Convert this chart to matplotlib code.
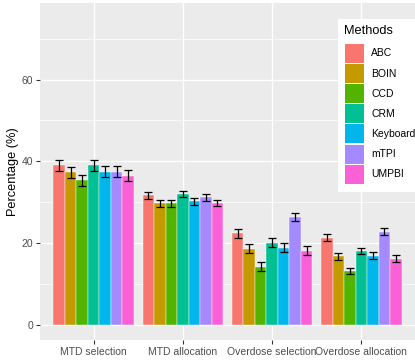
import matplotlib
matplotlib.use("Agg")
import matplotlib.pyplot as plt
import numpy as np
from matplotlib.patches import Rectangle

plt.rcParams['font.family'] = ['Liberation Sans', 'DejaVu Sans']

categories = ["MTD selection", "MTD allocation", "Overdose selection", "Overdose allocation"]
methods = ["ABC", "BOIN", "CCD", "CRM", "Keyboard", "mTPI", "UMPBI"]
colors = ["#F8766D", "#C49A00", "#53B400", "#00C094", "#00B6EB", "#A58AFF", "#FB61D7"]

values = {
    "ABC":      [39.0, 31.7, 22.4, 21.3],
    "BOIN":     [37.3, 29.7, 18.6, 16.7],
    "CCD":      [35.3, 29.7, 14.2, 13.2],
    "CRM":      [39.0, 32.0, 20.1, 18.0],
    "Keyboard": [37.5, 30.2, 18.8, 16.9],
    "mTPI":     [37.5, 31.2, 26.4, 22.8],
    "UMPBI":    [36.5, 29.8, 18.1, 16.2],
}
errors = {
    "ABC":      [1.4, 0.85, 1.1, 0.9],
    "BOIN":     [1.4, 0.8, 1.1, 0.8],
    "CCD":      [1.4, 0.8, 1.05, 0.7],
    "CRM":      [1.4, 0.8, 1.1, 0.8],
    "Keyboard": [1.4, 0.8, 1.1, 0.8],
    "mTPI":     [1.4, 0.8, 1.05, 0.8],
    "UMPBI":    [1.4, 0.8, 1.1, 0.8],
}

W, H = 415, 362
fig = plt.figure(figsize=(W/100, H/100), dpi=100)
ax = fig.add_axes([40/W, 22/H, 375/W, 337/H])
ax.set_facecolor("#EBEBEB")

x = np.arange(1, len(categories) + 1)
n = len(methods)
group_w = 0.9
bw = group_w / n
for i, m in enumerate(methods):
    xs = x - group_w/2 + bw*(i + 0.5)
    ax.bar(xs, values[m], width=bw, color=colors[i], edgecolor="white", linewidth=0.3, zorder=3)
    ax.errorbar(xs, values[m], yerr=errors[m], fmt="none", ecolor="black",
                elinewidth=0.9, capsize=3.2, capthick=0.9, zorder=4)

ax.set_xlim(0.4, 4.6)
ax.set_ylim(-3.75, 78.75)
ax.set_yticks([0, 20, 40, 60])
ax.set_yticks([10, 30, 50, 70], minor=True)
ax.set_xticks(x)
ax.set_xticklabels(categories)
ax.grid(which="major", color="white", linewidth=1.0, zorder=0)
ax.grid(which="minor", axis="y", color="white", linewidth=0.5, zorder=0)
ax.set_axisbelow(True)
for s in ax.spines.values():
    s.set_visible(False)
ax.tick_params(axis="both", which="major", length=3, color="#333333", width=0.8,
               labelsize=7.5, labelcolor="#4D4D4D", pad=2)
ax.tick_params(axis="both", which="minor", length=0)
ax.set_ylabel("Percentage (%)", fontsize=9.2, color="black", labelpad=1.5)

# manual legend (pixel coords from top-left)
def fx(px):
    return px / W
def fy(py):
    return 1 - py / H

fig.add_artist(Rectangle((fx(337.5), fy(191.5)), fx(415) - fx(337.5), fy(19.3) - fy(191.5),
                         transform=fig.transFigure, facecolor="white", edgecolor="none", zorder=5))
fig.text(fx(344), fy(31), "Methods", fontsize=9.2, color="black", ha="left", va="center", zorder=6)
key_top = 43.3
key_h = 20.15
for i, m in enumerate(methods):
    top = key_top + i * key_h
    fig.add_artist(Rectangle((fx(344.5), fy(top + key_h - 0.6)), fx(19.5), (key_h - 1.2) / H,
                             transform=fig.transFigure, facecolor=colors[i],
                             edgecolor="none", zorder=6))
    fig.text(fx(371), fy(top + key_h / 2), m, fontsize=7.5, color="black",
             ha="left", va="center", zorder=6)

fig.savefig("out.png", dpi=100)
